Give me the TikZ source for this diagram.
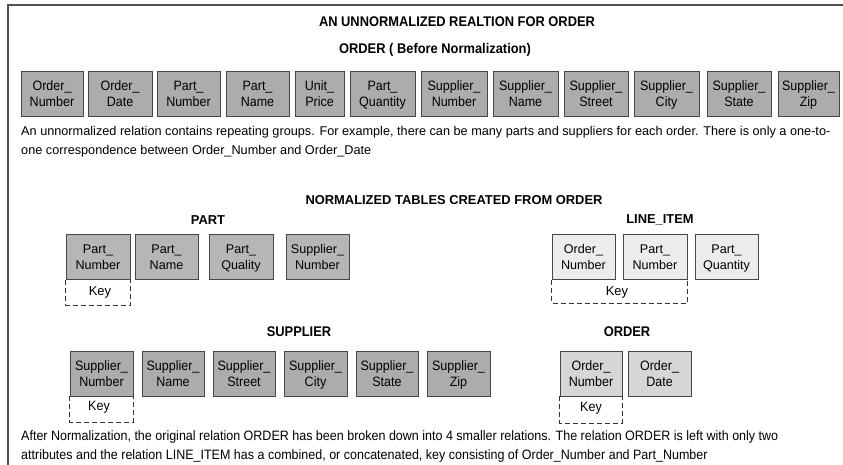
\documentclass[tikz,border=0pt]{standalone}
\usepackage{fontspec}
\setmainfont{Liberation Sans}
\newfontfamily\narrowfont[FakeStretch=0.92]{Liberation Sans}
\definecolor{frameclr}{RGB}{80,80,80}
\definecolor{edgeclr}{RGB}{70,70,70}
\definecolor{topfill}{RGB}{172,172,172}
\definecolor{partfill}{RGB}{182,182,182}
\definecolor{linefill}{RGB}{236,236,236}
\definecolor{supfill}{RGB}{172,172,172}
\definecolor{ordfill}{RGB}{214,214,214}
\tikzset{
  attr/.style={draw=edgeclr, line width=0.9pt, inner sep=0pt, align=center,
    minimum height=45, text depth=0pt},
  narrowattr/.style={attr, font=\narrowfont\fontsize{13.6}{16}\selectfont},
  wideattr/.style={attr, font=\fontsize{12.6}{16}\selectfont},
  keyline/.style={draw=black!80, line width=0.8pt, dash pattern=on 5pt off 3pt},
  keylbl/.style={font=\fontsize{13}{15}\selectfont, inner sep=0pt},
  heading/.style={font=\bfseries\fontsize{12.9}{15}\selectfont, inner sep=0pt},
  narrowheading/.style={font=\narrowfont\bfseries\fontsize{14}{16}\selectfont, inner sep=0pt},
  para/.style={anchor=west, align=left, inner sep=0pt}
}
\begin{document}
\begin{tikzpicture}[x=1pt,y=-1pt]
\useasboundingbox (0,0) rectangle (843,465);
\draw[frameclr, line width=2pt] (8,465) -- (8,5) -- (843,5);

\node[narrowheading] (t1) at (457,22) {AN UNNORMALIZED REALTION FOR ORDER};
\node[narrowheading] (t2) at (435,50) {ORDER ( Before Normalization)};

% top row
\node[narrowattr, fill=topfill, minimum width=62] (u1) at (52,94) {Order\_\\Number};
\node[narrowattr, fill=topfill, minimum width=64] (u2) at (120,94) {Order\_\\Date};
\node[narrowattr, fill=topfill, minimum width=63] (u3) at (188.5,94) {Part\_\\Number};
\node[narrowattr, fill=topfill, minimum width=63] (u4) at (257.5,94) {Part\_\\Name};
\node[narrowattr, fill=topfill, minimum width=49] (u5) at (319.5,94) {Unit\_\\Price};
\node[narrowattr, fill=topfill, minimum width=65] (u6) at (382.5,94) {Part\_\\Quantity};
\node[narrowattr, fill=topfill, minimum width=66] (u7) at (454,94) {Supplier\_\\Number};
\node[narrowattr, fill=topfill, minimum width=65] (u8) at (525.5,94) {Supplier\_\\Name};
\node[narrowattr, fill=topfill, minimum width=64] (u9) at (596,94) {Supplier\_\\Street};
\node[narrowattr, fill=topfill, minimum width=65] (u10) at (666.5,94) {Supplier\_\\City};
\node[narrowattr, fill=topfill, minimum width=64] (u11) at (739,94) {Supplier\_\\State};
\node[narrowattr, fill=topfill, minimum width=61] (u12) at (808.5,94) {Supplier\_\\Zip};

\node[para, font=\fontsize{12.7}{19}\selectfont] (p1) at (21,142) {An unnormalized relation contains repeating groups. For example, there can be many parts and suppliers for each order. There is only a one-to-\\one correspondence between Order\_Number and Order\_Date};

\node[heading] (t3) at (454,200) {NORMALIZED TABLES CREATED FROM ORDER};

% PART
\node[heading] (hpart) at (208,220) {PART};
\node[wideattr, fill=partfill, minimum width=64] (pa1) at (98,257) {Part\_\\Number};
\node[wideattr, fill=partfill, minimum width=63] (pa2) at (166.5,257) {Part\_\\Name};
\node[wideattr, fill=partfill, minimum width=64] (pa3) at (241,257) {Part\_\\Quality};
\node[wideattr, fill=partfill, minimum width=63] (pa4) at (317.5,257) {Supplier\_\\Number};
\coordinate (pk1) at (pa1.south west |- 0,305);
\coordinate (pk2) at (pa1.south east |- 0,305);
\draw[keyline] (pa1.south west) -- (pk1) -- (pk2) -- (pa1.south east);
\node[keylbl] (pkey) at (100,292) {Key};

% LINE_ITEM
\node[heading] (hline) at (660,220) {LINE\_ITEM};
\node[wideattr, fill=linefill, minimum width=63] (li1) at (583.5,257) {Order\_\\Number};
\node[wideattr, fill=linefill, minimum width=64] (li2) at (655,257) {Part\_\\Number};
\node[wideattr, fill=linefill, minimum width=63] (li3) at (726.5,257) {Part\_\\Quantity};
\coordinate (lk1) at (li1.south west |- 0,303);
\coordinate (lk2) at (li2.south east |- 0,303);
\draw[keyline] (li1.south west) -- (lk1) -- (lk2) -- (li2.south east);
\node[keylbl] (lkey) at (617,292) {Key};

% SUPPLIER
\node[narrowheading] (hsup) at (299,332) {SUPPLIER};
\node[narrowattr, fill=supfill, minimum width=63] (s1) at (101.5,373.5) {Supplier\_\\Number};
\node[narrowattr, fill=supfill, minimum width=62] (s2) at (173,373.5) {Supplier\_\\Name};
\node[narrowattr, fill=supfill, minimum width=62] (s3) at (244,373.5) {Supplier\_\\Street};
\node[narrowattr, fill=supfill, minimum width=63] (s4) at (315.5,373.5) {Supplier\_\\City};
\node[narrowattr, fill=supfill, minimum width=62] (s5) at (387,373.5) {Supplier\_\\State};
\node[narrowattr, fill=supfill, minimum width=63] (s6) at (458.5,373.5) {Supplier\_\\Zip};
\coordinate (sk1) at (s1.south west |- 0,422);
\coordinate (sk2) at (s1.south east |- 0,422);
\draw[keyline] (s1.south west) -- (sk1) -- (sk2) -- (s1.south east);
\node[keylbl, font=\narrowfont\fontsize{13.6}{15}\selectfont] (skey) at (99,407) {Key};

% ORDER
\node[narrowheading] (hord) at (627,332) {ORDER};
\node[narrowattr, fill=ordfill, minimum width=62] (o1) at (591,373.5) {Order\_\\Number};
\node[narrowattr, fill=ordfill, minimum width=63] (o2) at (659.5,373.5) {Order\_\\Date};
\coordinate (ok1) at (o1.south west |- 0,423);
\coordinate (ok2) at (o1.south east |- 0,423);
\draw[keyline] (o1.south west) -- (ok1) -- (ok2) -- (o1.south east);
\node[keylbl, font=\narrowfont\fontsize{13.6}{15}\selectfont] (okey) at (591,408) {Key};

\node[para, font=\narrowfont\fontsize{13.6}{19}\selectfont] (p2) at (21,446.5) {After Normalization, the original relation ORDER has been broken down into 4 smaller relations. The relation ORDER is left with only two\\attributes and the relation LINE\_ITEM has a combined, or concatenated, key consisting of Order\_Number and Part\_Number};
\end{tikzpicture}
\end{document}
